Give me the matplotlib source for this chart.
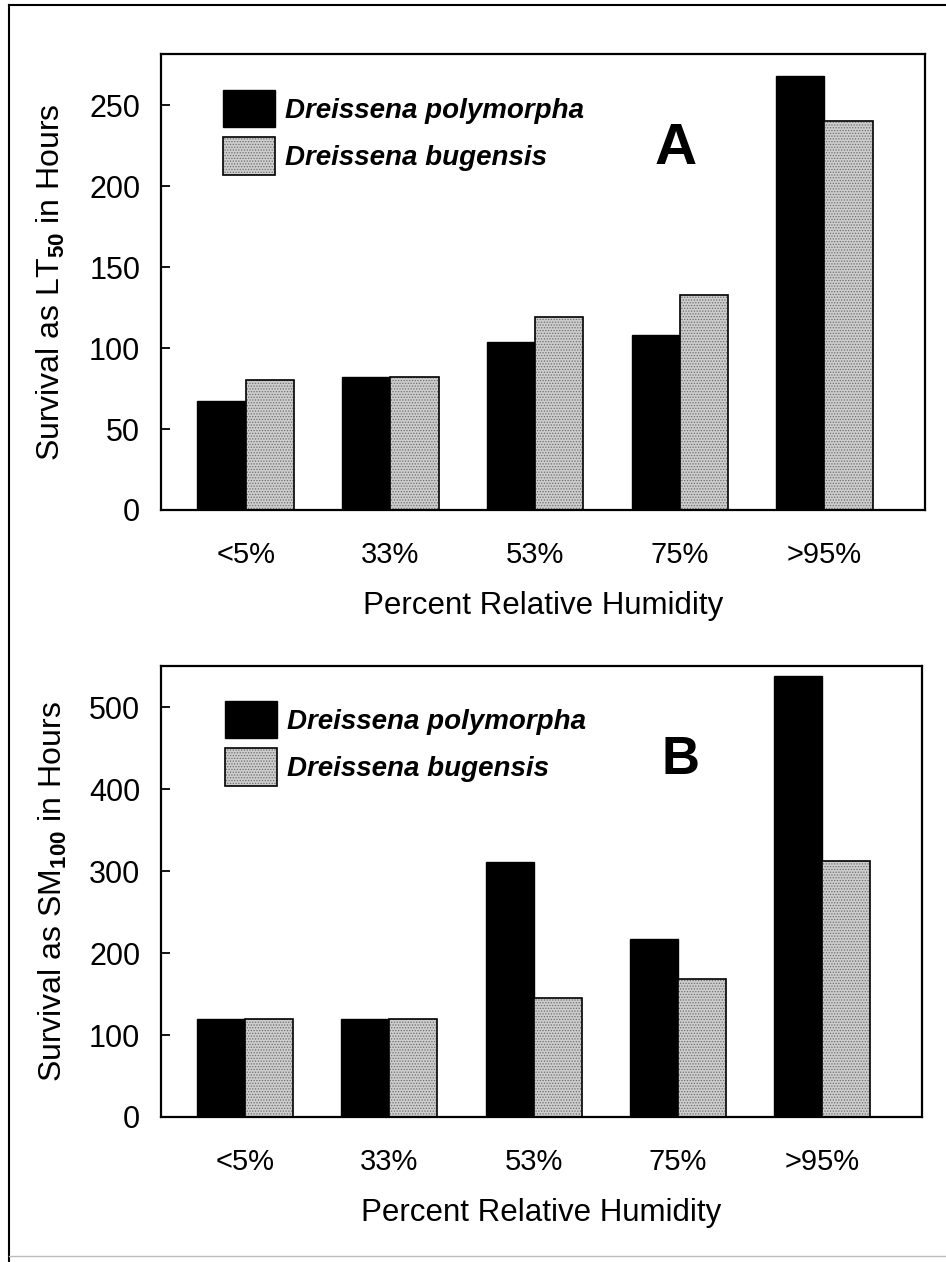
import numpy as np
import matplotlib.pyplot as plt
from matplotlib.patches import Patch
from matplotlib.lines import Line2D

plt.rcParams["font.family"] = ["Liberation Sans", "DejaVu Sans"]
plt.rcParams["mathtext.fontset"] = "custom"
plt.rcParams["mathtext.rm"] = "Liberation Sans"
plt.rcParams["mathtext.bf"] = "Liberation Sans:bold"
plt.rcParams["hatch.linewidth"] = 0.6

humidity = ["<5%", "33%", "53%", "75%", ">95%"]
species = ["Dreissena polymorpha", "Dreissena bugensis"]

# panel A: LT50 (hours)
lt50_polymorpha = [67, 82, 104, 108, 268]
lt50_bugensis = [80, 82, 119, 133, 240]

# panel B: SM100 (hours)
sm100_polymorpha = [120, 120, 311, 217, 538]
sm100_bugensis = [120, 120, 145, 169, 313]

GRAY = "#cdcdcd"
DOTS = "#6e6e6e"
STIPPLE = "......"

fig = plt.figure(figsize=(9.46, 12.62), dpi=100)
ax_a = fig.add_axes([0.1702, 0.5959, 0.8076, 0.3613])
ax_b = fig.add_axes([0.1702, 0.1149, 0.8044, 0.3570])

panels = [
    (ax_a, lt50_polymorpha, lt50_bugensis, 281.6, 50,
     "Survival as LT$_{\\mathbf{50}}$ in Hours", -0.123, "A", 42, (0.674, 0.792), (0.081, 0.921)),
    (ax_b, sm100_polymorpha, sm100_bugensis, 550, 100,
     "Survival as SM$_{\\mathbf{100}}$ in Hours", -0.121, "B", 38, (0.683, 0.792), (0.084, 0.923)),
]

x = np.arange(len(humidity))
w = 1 / 3

for ax, black_vals, gray_vals, ytop, ystep, ylabel, ylab_x, letter, letter_size, letter_pos, leg_pos in panels:
    ax.bar(x - w / 2, black_vals, w, color="black", edgecolor="black", linewidth=1)
    ax.bar(x + w / 2, gray_vals, w, color=GRAY, edgecolor=DOTS, hatch=STIPPLE, linewidth=0)
    ax.bar(x + w / 2, gray_vals, w, fill=False, edgecolor="black", linewidth=1.2)

    ax.set_xlim(-0.585, 4.695)
    ax.set_ylim(0, ytop)
    ax.set_yticks(np.arange(0, ytop, ystep))
    ax.set_xticks(x)
    ax.set_xticklabels(humidity)

    ax.tick_params(axis="y", direction="in", length=6.5, width=1.3, pad=15, labelsize=22)
    ax.tick_params(axis="x", length=0, pad=22, labelsize=21)
    for sp in ax.spines.values():
        sp.set_linewidth(1.6)

    ax.set_xlabel("Percent Relative Humidity", fontsize=22.5, labelpad=16)
    ax.set_ylabel(ylabel, fontsize=23)
    ax.yaxis.set_label_coords(ylab_x, 0.5)

    ax.text(letter_pos[0], letter_pos[1], letter, transform=ax.transAxes,
            fontsize=letter_size, fontweight="bold", ha="center", va="center")

    h_black = Patch(facecolor="black", edgecolor="black")
    h_gray = (Patch(facecolor=GRAY, edgecolor=DOTS, hatch=STIPPLE, linewidth=0),
              Patch(fill=False, edgecolor="black", linewidth=1.2))
    ax.legend([h_black, h_gray], species, loc="upper left", bbox_to_anchor=leg_pos,
              frameon=False, borderpad=0, borderaxespad=0,
              handlelength=1.87, handleheight=1.69, labelspacing=0.36, handletextpad=0.36,
              prop={"weight": "bold", "style": "italic", "size": 20})

# scanned page frame
fig.add_artist(Line2D([0.0095, 1.0], [0.996, 0.996], transform=fig.transFigure, color="black", linewidth=1.5))
fig.add_artist(Line2D([0.0095, 0.0095], [0.0, 0.996], transform=fig.transFigure, color="black", linewidth=1.5))
fig.add_artist(Line2D([0.0095, 1.0], [0.0048, 0.0048], transform=fig.transFigure, color="#bbbbbb", linewidth=1))

plt.savefig("out.png", dpi=100)
